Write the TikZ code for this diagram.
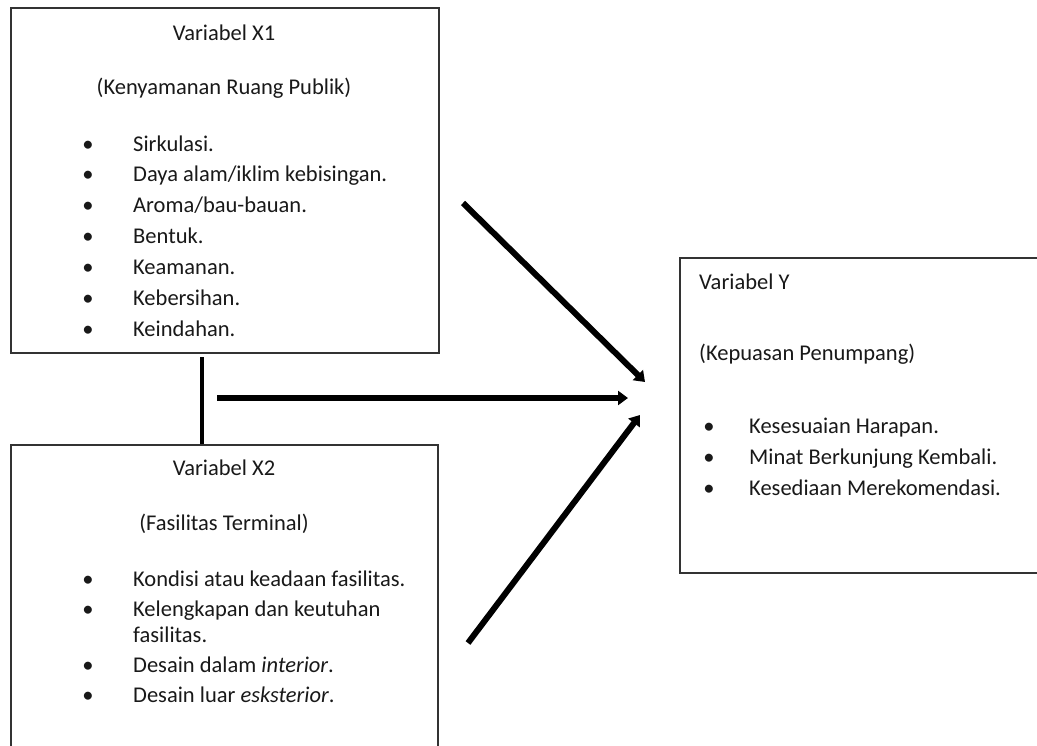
\documentclass[tikz,border=0pt]{standalone}
\usepackage{fontspec}
\setmainfont{Carlito}
\usetikzlibrary{arrows.meta}
\begin{document}
\begin{tikzpicture}[x=1pt,y=-1pt,
  box/.style={draw=black!80,line width=1.6pt,anchor=north west,inner sep=0pt},
  txt/.style={inner sep=0pt,text=black!90,font=\fontsize{22.5}{27}\selectfont},
  link/.style={line width=6pt,-{Triangle[length=10pt,width=14pt]}}]
\clip (0,0) rectangle (1037,746);
\fill[white] (0,0) rectangle (1037,746);
% boxes
\node (x1) [box,minimum width=428pt,minimum height=345pt] at (10,7) {};
\node (x2) [box,minimum width=427pt,minimum height=330pt] at (10,444) {};
\node (y) [box,minimum width=380pt,minimum height=315pt] at (679,257) {};
% variabel X1
\node (x1title) [txt,anchor=base] at (224,40.5) {Variabel X1};
\node (x1sub) [txt,anchor=base] at (224,95) {(Kenyamanan Ruang Publik)};
\node (x1b1) [txt,anchor=base] at (88,152) {\textbullet};
\node (x1t1) [txt,anchor=base west] at (133,152) {Sirkulasi.};
\node (x1b2) [txt,anchor=base] at (88,182) {\textbullet};
\node (x1t2) [txt,anchor=base west] at (133,182) {Daya alam/iklim kebisingan.};
\node (x1b3) [txt,anchor=base] at (88,213) {\textbullet};
\node (x1t3) [txt,anchor=base west] at (133,213) {Aroma/bau-bauan.};
\node (x1b4) [txt,anchor=base] at (88,244) {\textbullet};
\node (x1t4) [txt,anchor=base west] at (133,244) {Bentuk.};
\node (x1b5) [txt,anchor=base] at (88,275) {\textbullet};
\node (x1t5) [txt,anchor=base west] at (133,275) {Keamanan.};
\node (x1b6) [txt,anchor=base] at (88,306) {\textbullet};
\node (x1t6) [txt,anchor=base west] at (133,306) {Kebersihan.};
\node (x1b7) [txt,anchor=base] at (88,337) {\textbullet};
\node (x1t7) [txt,anchor=base west] at (133,337) {Keindahan.};
% variabel X2
\node (x2title) [txt,anchor=base] at (224,475) {Variabel X2};
\node (x2sub) [txt,anchor=base] at (224,530) {(Fasilitas Terminal)};
\node (x2b1) [txt,anchor=base] at (88,586) {\textbullet};
\node (x2t1) [txt,anchor=base west] at (133,586) {Kondisi atau keadaan fasilitas.};
\node (x2b2) [txt,anchor=base] at (88,616) {\textbullet};
\node (x2t2) [txt,anchor=base west] at (133,616) {Kelengkapan dan keutuhan};
\node (x2t2b) [txt,anchor=base west] at (133,642) {fasilitas.};
\node (x2b3) [txt,anchor=base] at (88,672) {\textbullet};
\node (x2t3) [txt,anchor=base west] at (133,672) {Desain dalam \textit{interior}.};
\node (x2b4) [txt,anchor=base] at (88,702) {\textbullet};
\node (x2t4) [txt,anchor=base west] at (133,702) {Desain luar \textit{esksterior}.};
% variabel Y
\node (ytitle) [txt,anchor=base west] at (699,290) {Variabel Y};
\node (ysub) [txt,anchor=base west] at (699,360) {(Kepuasan Penumpang)};
\node (yb1) [txt,anchor=base] at (709,433) {\textbullet};
\node (yt1) [txt,anchor=base west] at (749,433) {Kesesuaian Harapan.};
\node (yb2) [txt,anchor=base] at (709,464) {\textbullet};
\node (yt2) [txt,anchor=base west] at (749,464) {Minat Berkunjung Kembali.};
\node (yb3) [txt,anchor=base] at (709,495) {\textbullet};
\node (yt3) [txt,anchor=base west] at (749,495) {Kesediaan Merekomendasi.};
% connectors
\coordinate (corr) at (202,357);
\draw[line width=3.5pt] (corr) -- (corr |- x2.north);
\coordinate (top1) at (463,203);
\coordinate (top2) at (645,382);
\coordinate (mid1) at (217,398);
\coordinate (mid2) at (628,398);
\coordinate (bot1) at (468,643);
\coordinate (bot2) at (640,415);
\draw[link] (top1) -- (top2);
\draw[link] (mid1) -- (mid2);
\draw[link] (bot1) -- (bot2);
\end{tikzpicture}
\end{document}
